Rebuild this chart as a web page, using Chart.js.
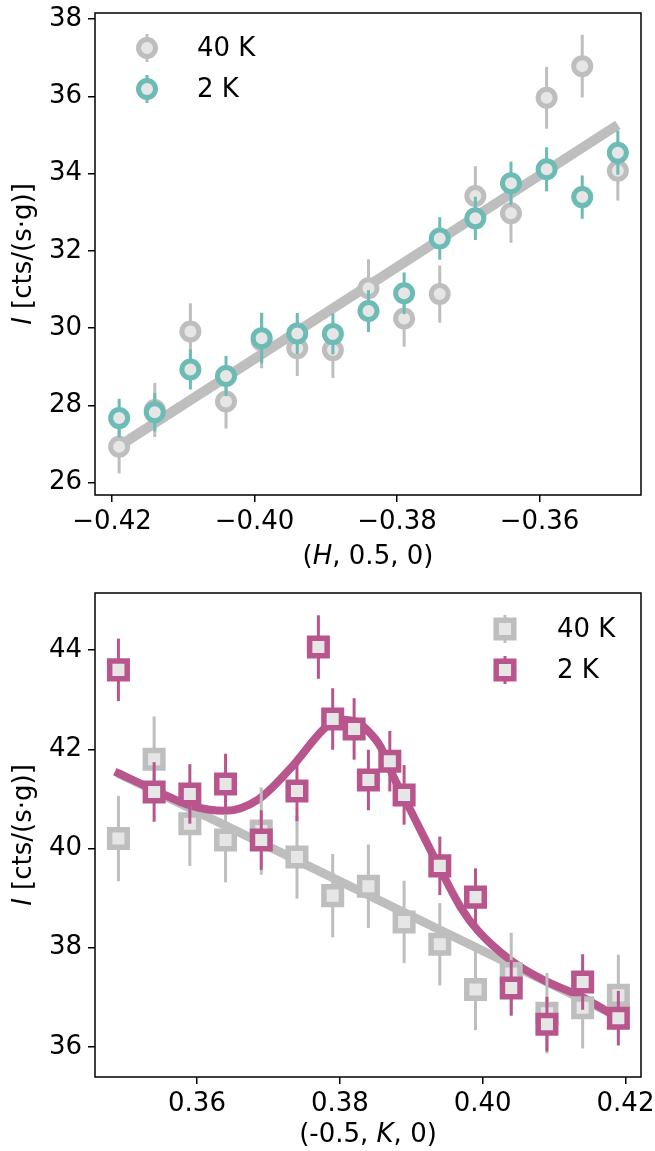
<!doctype html>
<html lang="en">
<head>
<meta charset="utf-8">
<title>Intensity vs (H, 0.5, 0) and (-0.5, K, 0)</title>
<script src="https://cdn.jsdelivr.net/npm/chart.js"></script>
<style>
  html, body { margin: 0; padding: 0; background: #fff; }
  .panel { position: absolute; left: 0; width: 655px; }
  #top { top: 0; height: 578px; }
  #bottom { top: 578px; height: 573px; }
</style>
</head>
<body>
<div class="panel" id="top"><canvas id="chartH"></canvas></div>
<div class="panel" id="bottom"><canvas id="chartK"></canvas></div>
<script>
// ---- top panel: (H, 0.5, 0) ----
const hVals = [-0.419, -0.414, -0.409, -0.404, -0.399, -0.394, -0.389, -0.384, -0.379, -0.374, -0.369, -0.364, -0.359, -0.354, -0.349];
const i40H = [26.93, 27.88, 29.91, 28.10, 29.68, 29.48, 29.43, 31.03, 30.25, 30.88, 33.42, 32.97, 35.96, 36.78, 34.07];
const e40H = [0.69, 0.70, 0.73, 0.70, 0.72, 0.72, 0.72, 0.75, 0.73, 0.74, 0.77, 0.76, 0.80, 0.81, 0.77];
const i2H = [27.67, 27.82, 28.93, 28.76, 29.74, 29.86, 29.85, 30.44, 30.90, 32.32, 32.84, 33.75, 34.11, 33.39, 34.54];
const e2H = [0.50, 0.50, 0.52, 0.52, 0.65, 0.53, 0.53, 0.54, 0.54, 0.55, 0.56, 0.56, 0.57, 0.56, 0.57];
const fitH = [-0.419, -0.349];
const fitHI = [26.95, 35.26];
const xTicksH = [-0.42, -0.40, -0.38, -0.36];
const yTicksH = [26, 28, 30, 32, 34, 36, 38];

// ---- bottom panel: (-0.5, K, 0) ----
const k40 = [0.349, 0.354, 0.359, 0.364, 0.369, 0.374, 0.379, 0.384, 0.389, 0.394, 0.399, 0.404, 0.409, 0.414, 0.419];
const i40K = [40.20, 41.80, 40.50, 40.17, 40.35, 39.83, 39.05, 39.24, 38.52, 38.07, 37.16, 37.48, 36.68, 36.79, 37.04];
const e40K = [0.86, 0.86, 0.85, 0.85, 0.88, 0.84, 0.84, 0.84, 0.83, 0.83, 0.82, 0.82, 0.81, 0.82, 0.82];
const k2 = [0.349, 0.354, 0.359, 0.364, 0.369, 0.374, 0.377, 0.379, 0.382, 0.384, 0.387, 0.389, 0.394, 0.399, 0.404, 0.409, 0.414, 0.419];
const i2K = [43.60, 41.14, 41.10, 41.30, 40.17, 41.16, 44.06, 42.61, 42.41, 41.38, 41.76, 41.08, 39.65, 39.02, 37.19, 36.46, 37.31, 36.58];
const e2K = [0.63, 0.60, 0.60, 0.61, 0.60, 0.61, 0.64, 0.62, 0.62, 0.61, 0.61, 0.60, 0.59, 0.58, 0.56, 0.55, 0.56, 0.55];
const fit40K = [0.349, 0.419];
const fit40KI = [41.51, 36.61];
const fit2K = [0.3485, 0.354, 0.359, 0.364, 0.3685, 0.373, 0.3777, 0.3796, 0.3824, 0.3838, 0.3857, 0.3875, 0.3899, 0.3939, 0.3969, 0.3993, 0.4039, 0.4085, 0.414, 0.419];
const fit2KI = [41.55, 41.18, 40.87, 40.76, 40.98, 41.60, 42.40, 42.60, 42.55, 42.39, 42.05, 41.45, 40.77, 39.63, 38.82, 38.35, 37.75, 37.35, 37.00, 36.58];
const xTicksK = [0.36, 0.38, 0.40, 0.42];
const yTicksK = [36, 38, 40, 42, 44];

const GRAY = '#bebebe', FILL = '#e6e6e6', TEAL = '#6cbbb5', PINK = '#b9558d';
const FONT = '"DejaVu Sans", sans-serif';
const FS = 26;

const pts = (xs, ys) => xs.map((x, i) => ({ x: x, y: ys[i] }));
const minus = v => (v < 0 ? '\u2212' : '') + Math.abs(v).toFixed(2);

function richText(ctx, parts, x, y) {
  let w = 0;
  parts.forEach(p => { ctx.font = (p[1] ? 'italic ' : '') + FS + 'px ' + FONT; w += ctx.measureText(p[0]).width; });
  let cx = x - w / 2;
  ctx.textAlign = 'left';
  parts.forEach(p => {
    ctx.font = (p[1] ? 'italic ' : '') + FS + 'px ' + FONT;
    ctx.fillText(p[0], cx, y);
    cx += ctx.measureText(p[0]).width;
  });
}

function marker(ctx, style, color, x, y) {
  ctx.strokeStyle = color;
  ctx.lineWidth = 3;
  ctx.beginPath(); ctx.moveTo(x, y - 14); ctx.lineTo(x, y + 14); ctx.stroke();
  ctx.fillStyle = FILL;
  ctx.lineWidth = style === 'rect' ? 5.5 : 5;
  ctx.beginPath();
  if (style === 'rect') { const s = 8.8; ctx.rect(x - s, y - s, 2 * s, 2 * s); }
  else ctx.arc(x, y, 8.5, 0, Math.PI * 2);
  ctx.fill(); ctx.stroke();
}

const decor = {
  id: 'decor',
  beforeDatasetDraw(chart, args) {
    const ds = chart.data.datasets[args.index];
    if (!ds.errors) return;
    const { ctx, scales: { x, y } } = chart;
    ctx.save();
    ctx.strokeStyle = ds.pointBorderColor;
    ctx.lineWidth = 3;
    ds.data.forEach((p, i) => {
      const px = x.getPixelForValue(p.x);
      ctx.beginPath();
      ctx.moveTo(px, y.getPixelForValue(p.y - ds.errors[i]));
      ctx.lineTo(px, y.getPixelForValue(p.y + ds.errors[i]));
      ctx.stroke();
    });
    ctx.restore();
  },
  afterDraw(chart, args, opts) {
    const { ctx, chartArea: a } = chart;
    ctx.save();
    ctx.strokeStyle = '#000';
    ctx.lineWidth = 1.5;
    ctx.strokeRect(a.left, a.top, a.right - a.left, a.bottom - a.top);
    ctx.fillStyle = '#000';
    ctx.textBaseline = 'middle';
    richText(ctx, opts.xTitle, (a.left + a.right) / 2, opts.xTitleY);
    ctx.save();
    ctx.translate(24, (a.top + a.bottom) / 2);
    ctx.rotate(-Math.PI / 2);
    richText(ctx, opts.yTitle, 0, 0);
    ctx.restore();
    const lg = opts.legend;
    lg.items.forEach((idx, n) => {
      const ds = chart.data.datasets[idx];
      const y = lg.y + n * 41;
      marker(ctx, ds.pointStyle, ds.pointBorderColor, lg.x, y);
      ctx.fillStyle = '#000';
      ctx.font = FS + 'px ' + FONT;
      ctx.textAlign = 'left';
      ctx.fillText(ds.label, lg.textX, y + 1);
    });
    ctx.restore();
  }
};

function scatterSet(label, xs, ys, errs, color, style, order) {
  return {
    label: label, data: pts(xs, ys), errors: errs, order: order,
    pointStyle: style, pointRadius: style === 'rect' ? 12.4 : 8.5,
    pointBorderWidth: style === 'rect' ? 5.5 : 5,
    pointBackgroundColor: FILL, pointBorderColor: color, showLine: false
  };
}

function lineSet(label, xs, ys, color, width, order, smooth) {
  return {
    label: label, data: pts(xs, ys), order: order, showLine: true,
    borderColor: color, borderWidth: width, pointRadius: 0,
    borderCapStyle: 'butt', borderJoinStyle: 'round',
    cubicInterpolationMode: smooth ? 'monotone' : 'default', fill: false
  };
}

function axes(xr, yr, xt, yt, xFmt, xHeight) {
  const grid = { drawOnChartArea: false, drawTicks: true, tickLength: 7, tickColor: '#000', lineWidth: 1.5 };
  const tickFont = { family: FONT, size: FS };
  return {
    x: {
      type: 'linear', min: xr[0], max: xr[1], grid: grid, border: { display: false },
      afterBuildTicks: s => { s.ticks = xt.map(v => ({ value: v })); },
      afterFit: s => { s.height = xHeight; s.paddingLeft = 0; s.paddingRight = 0; },
      ticks: { color: '#000', font: tickFont, padding: 5, maxRotation: 0, callback: xFmt }
    },
    y: {
      type: 'linear', min: yr[0], max: yr[1], grid: grid, border: { display: false },
      afterBuildTicks: s => { s.ticks = yt.map(v => ({ value: v })); },
      afterFit: s => { s.width = 95; s.paddingTop = 0; s.paddingBottom = 0; },
      ticks: { color: '#000', font: tickFont, padding: 6, callback: v => v.toFixed(0) }
    }
  };
}

new Chart(document.getElementById('chartH'), {
  type: 'scatter',
  data: {
    datasets: [
      scatterSet('2 K', hVals, i2H, e2H, TEAL, 'circle', 0),
      scatterSet('40 K', hVals, i40H, e40H, GRAY, 'circle', 1),
      lineSet('fit 40 K', fitH, fitHI, GRAY, 10, 2, false)
    ]
  },
  options: {
    responsive: true, maintainAspectRatio: false, animation: false, events: [],
    layout: { padding: { top: 13, right: 14, left: 0, bottom: 0 }, autoPadding: false },
    scales: axes([-0.42239, -0.34575], [25.68, 38.155], xTicksH, yTicksH, minus, 83),
    plugins: {
      legend: { display: false }, tooltip: { enabled: false },
      decor: {
        xTitle: [['(', false], ['H', true], [', 0.5, 0)', false]], xTitleY: 557,
        yTitle: [['I', true], [' [cts/(s\u00b7g)]', false]],
        legend: { x: 147, y: 48, textX: 197, items: [1, 0] }
      }
    }
  },
  plugins: [decor]
});

new Chart(document.getElementById('chartK'), {
  type: 'scatter',
  data: {
    datasets: [
      scatterSet('2 K', k2, i2K, e2K, PINK, 'rect', 0),
      scatterSet('40 K', k40, i40K, e40K, GRAY, 'rect', 1),
      lineSet('fit 2 K', fit2K, fit2KI, PINK, 8, 2, true),
      lineSet('fit 40 K', fit40K, fit40KI, GRAY, 9, 3, false)
    ]
  },
  options: {
    responsive: true, maintainAspectRatio: false, animation: false, events: [],
    layout: { padding: { top: 15, right: 14, left: 0, bottom: 0 }, autoPadding: false },
    scales: axes([0.34572, 0.42217], [35.395, 45.149], xTicksK, yTicksK, v => v.toFixed(2), 74),
    plugins: {
      legend: { display: false }, tooltip: { enabled: false },
      decor: {
        xTitle: [['(-0.5, ', false], ['K', true], [', 0)', false]], xTitleY: 557,
        yTitle: [['I', true], [' [cts/(s\u00b7g)]', false]],
        legend: { x: 505, y: 51, textX: 557, items: [1, 0] }
      }
    }
  },
  plugins: [decor]
});
</script>
</body>
</html>
